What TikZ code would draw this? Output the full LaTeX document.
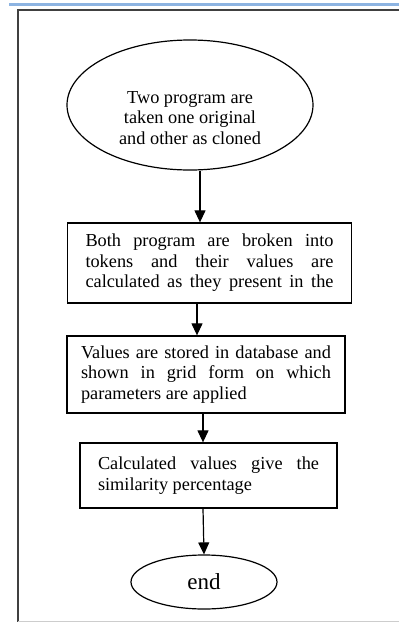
\documentclass[tikz,border=0pt]{standalone}
\usepackage{fontspec}
\setmainfont{Liberation Serif}
\usetikzlibrary{shapes.geometric,arrows.meta}

\definecolor{rulerblue}{RGB}{141,180,226}
\definecolor{framegray}{RGB}{64,64,64}
\definecolor{pagegray}{RGB}{205,205,205}

\tikzset{
    flowtext/.style={font=\fontsize{18.3}{20.5}\selectfont},
    stepbox/.style={flowtext, draw, line width=1.3pt, rectangle, align=justify, inner xsep=18pt, inner ysep=4pt},
    terminal/.style={draw, line width=1.2pt, ellipse, inner sep=0pt},
    flowarrow/.style={line width=1.2pt, -{Triangle[length=12pt,width=11pt]}}
}

\begin{document}
\begin{tikzpicture}[x=1pt, y=-1pt]
    \useasboundingbox (0,0) rectangle (399,622);

    % Rand van de pagina
    \draw[rulerblue, line width=3pt] (9,4) -- (399,4);
    \draw[framegray, line width=2.5pt] (399,10) -- (18,10) -- (18,622);
    \draw[pagegray, line width=1pt] (18,621) -- (399,621);

    % Start
    \node[terminal, minimum width=246pt, minimum height=130pt] (start) at (190,105) {};
    \node[flowtext, align=center] (starttext) at (190,118) {Two program are\\taken one original\\and other as cloned};

    % Stappen
    \node[stepbox, text width=248pt, minimum height=80pt] (tokens) at (209.5,263)
        {Both program are broken into\linebreak tokens and their values are\linebreak
         \makebox[248pt][s]{calculated as they present in the}};
    \node[stepbox, text width=250pt, inner xsep=14pt, minimum height=77pt] (stored) at (206,374.5)
        {Values are stored in database and\linebreak shown in grid form on which\linebreak parameters are applied};
    \node[stepbox, text width=221pt, minimum height=65pt] (similar) at (208.5,475.5)
        {Calculated values give the\linebreak similarity percentage};

    % Einde
    \node[terminal, minimum width=146pt, minimum height=54pt, font=\fontsize{23}{26}\selectfont] (end) at (204,582) {end};

    % Pijlen
    \draw[flowarrow] ([xshift=10pt]start.south) -- ([xshift=-9.5pt]tokens.north);
    \draw[flowarrow] ([xshift=-12.5pt]tokens.south) -- ([xshift=-9pt]stored.north);
    \draw[flowarrow] ([xshift=-3pt]stored.south) -- ([xshift=-5.5pt]similar.north);
    \draw[flowarrow] ([xshift=-5.5pt]similar.south) -- (end.north);
\end{tikzpicture}
\end{document}
